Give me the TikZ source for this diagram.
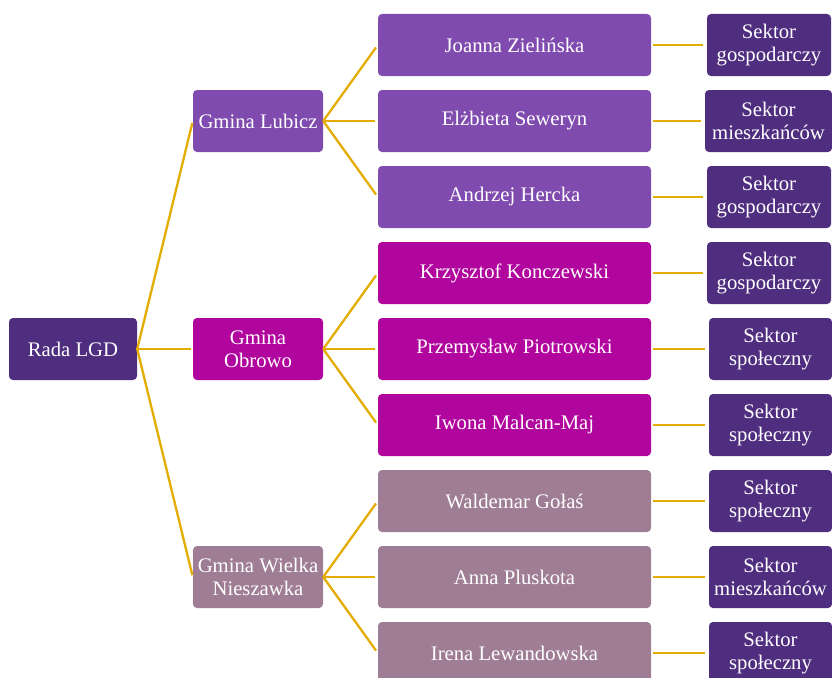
\documentclass[tikz,border=0pt]{standalone}
\usepackage{fontspec}
\setmainfont{Liberation Serif}
\definecolor{radac}{HTML}{4F2D7F}
\definecolor{lubc}{HTML}{804BAE}
\definecolor{obrc}{HTML}{B1069E}
\definecolor{wnc}{HTML}{9F7E95}
\definecolor{secc}{HTML}{4F2D7F}
\definecolor{linec}{HTML}{E2AC00}
\begin{document}
\begin{tikzpicture}[x=1pt,y=-1pt,
  box/.style={rectangle,rounded corners=4pt,inner sep=0pt,text=white,align=center,
    font=\fontsize{20.7}{22.5}\selectfont,minimum height=62pt},
  rada/.style={box,fill=radac,minimum width=128pt},
  gmina/.style={box,minimum width=130pt},
  person/.style={box,minimum width=273pt},
  sector/.style={box,fill=secc,minimum width=124pt},
  conn/.style={draw=linec,line width=2.3pt}]
\useasboundingbox (0,0) rectangle (832,677);
\node[rada] (rada) at (73,349) {Rada LGD};
\node[gmina,fill=lubc] (g1) at (258,121) {Gmina Lubicz};
\node[gmina,fill=obrc] (g2) at (258,349) {Gmina\\Obrowo};
\node[gmina,fill=wnc] (g3) at (258,577) {Gmina Wielka\\Nieszawka};
\node[person,fill=lubc] (p1) at (514.5,45) {Joanna Zielińska};
\node[person,fill=lubc] (p2) at (514.5,121) {Elżbieta Seweryn};
\node[person,fill=lubc] (p3) at (514.5,197) {Andrzej Hercka};
\node[person,fill=obrc] (p4) at (514.5,273) {Krzysztof Konczewski};
\node[person,fill=obrc] (p5) at (514.5,349) {Przemysław Piotrowski};
\node[person,fill=obrc] (p6) at (514.5,425) {Iwona Malcan-Maj};
\node[person,fill=wnc] (p7) at (514.5,501) {Waldemar Gołaś};
\node[person,fill=wnc] (p8) at (514.5,577) {Anna Pluskota};
\node[person,fill=wnc] (p9) at (514.5,653) {Irena Lewandowska};
\node[sector] (s1) at (769,45) {Sektor\\gospodarczy};
\node[sector,minimum width=127pt] (s2) at (768.5,121) {Sektor\\mieszkańców};
\node[sector] (s3) at (769,197) {Sektor\\gospodarczy};
\node[sector] (s4) at (769,273) {Sektor\\gospodarczy};
\node[sector,minimum width=123pt] (s5) at (770.5,349) {Sektor\\społeczny};
\node[sector,minimum width=123pt] (s6) at (770.5,425) {Sektor\\społeczny};
\node[sector,minimum width=123pt] (s7) at (770.5,501) {Sektor\\społeczny};
\node[sector,minimum width=123pt] (s8) at (770.5,577) {Sektor\\mieszkańców};
\node[sector,minimum width=123pt] (s9) at (770.5,653) {Sektor\\społeczny};
\foreach \g in {g1,g2,g3} \draw[conn,shorten >=2pt] (rada.east) -- (\g.west);
\foreach \p in {p1,p2,p3} \draw[conn,shorten >=3pt] (g1.east) -- (\p.west);
\foreach \p in {p4,p5,p6} \draw[conn,shorten >=3pt] (g2.east) -- (\p.west);
\foreach \p in {p7,p8,p9} \draw[conn,shorten >=3pt] (g3.east) -- (\p.west);
\foreach \i in {1,...,9} \draw[conn,shorten <=2pt,shorten >=4pt] (p\i.east) -- (s\i.west);
\end{tikzpicture}
\end{document}
